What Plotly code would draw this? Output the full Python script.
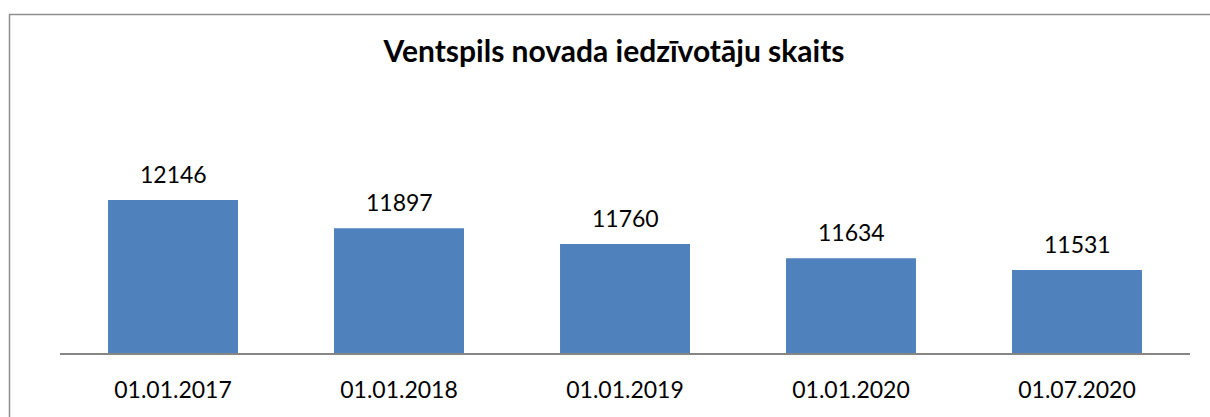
import plotly.graph_objects as go

categories = ["01.01.2017", "01.01.2018", "01.01.2019", "01.01.2020", "01.07.2020"]
values = [12146, 11897, 11760, 11634, 11531]
title_text = "Ventspils novada iedzīvotāju skaits"

W, H = 1210, 417
L, R = 60, 1190
T, B = 103, 353
ymin, ymax = 10800, 13000

def px(x):
    return (x - L) / (R - L)

def py(y):
    return (B - y) / (B - T)

FONT = "Lato, 'Liberation Sans', sans-serif"

fig = go.Figure()
fig.add_trace(go.Bar(
    x=categories,
    y=[v - ymin for v in values],
    base=ymin,
    width=0.575,
    marker=dict(color="#4f81bd", line=dict(width=0)),
    hoverinfo="skip",
))

for c, v in zip(categories, values):
    fig.add_annotation(
        x=c, y=v, xref="x", yref="y",
        text=str(v), showarrow=False,
        yanchor="bottom", yshift=10,
        font=dict(family=FONT, size=23, color="#000000"),
    )

fig.update_layout(
    width=W, height=H,
    margin=dict(l=L, r=W - R, t=T, b=H - B, pad=0),
    paper_bgcolor="white",
    plot_bgcolor="white",
    showlegend=False,
    title=dict(
        text="<b>" + title_text + "</b>",
        x=614 / W, xanchor="center",
        y=1 - 51 / H, yanchor="middle",
        font=dict(family=FONT, size=30, color="#000000"),
    ),
    xaxis=dict(
        showline=True, linecolor="#868686", linewidth=1.5,
        showgrid=False, zeroline=False,
        ticks="outside", ticklen=16, tickcolor="rgba(0,0,0,0)",
        tickfont=dict(family=FONT, size=23, color="#000000"),
        fixedrange=True,
    ),
    yaxis=dict(
        range=[ymin, ymax], visible=False, showgrid=False, zeroline=False,
        fixedrange=True,
    ),
    shapes=[
        dict(type="line", xref="paper", yref="paper",
             x0=px(9), x1=px(1210), y0=py(14.5), y1=py(14.5),
             line=dict(color="#8e8e8e", width=1.5)),
        dict(type="line", xref="paper", yref="paper",
             x0=px(9.5), x1=px(9.5), y0=py(14), y1=py(420),
             line=dict(color="#8e8e8e", width=1.5)),
    ],
)

fig.write_html(
    "out.html",
    config={"displayModeBar": False, "staticPlot": True},
    post_script="document.body.style.margin='0';document.body.style.overflow='hidden';",
)
